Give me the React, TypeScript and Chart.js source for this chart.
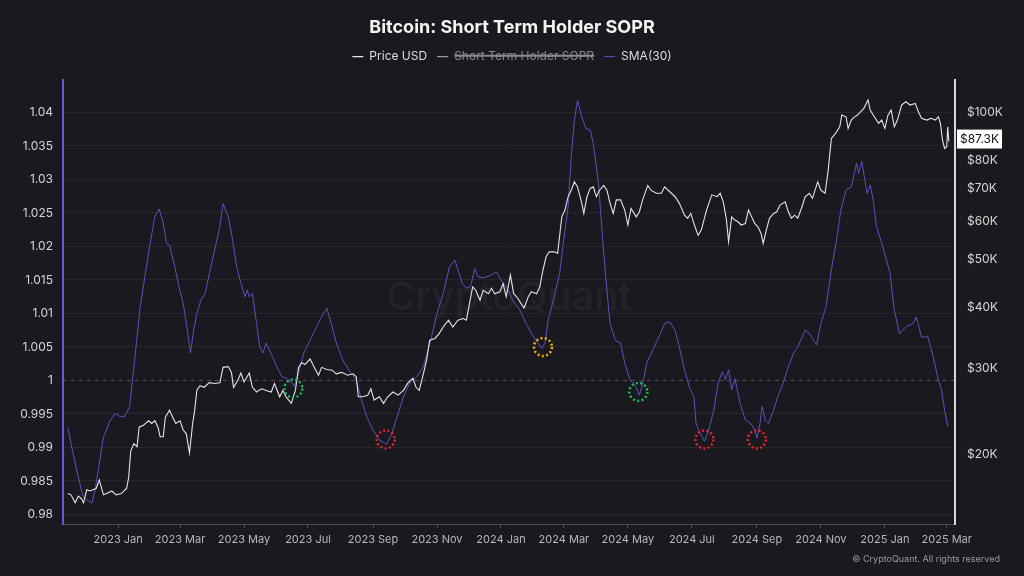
import React, { useEffect, useRef } from 'react';
import { Chart, registerables, layouts } from 'chart.js';

Chart.register(...registerables);

// ---------- text ----------
const TITLE = 'Bitcoin: Short Term Holder SOPR';
const SERIES_NAMES = ['Price USD', 'Short Term Holder SOPR', 'SMA(30)'];
const WATERMARK = 'CryptoQuant';
const COPYRIGHT = '© CryptoQuant. All rights reserved';

// ---------- axes ----------
const xTickDates = [
  '2023-01-01', '2023-03-01', '2023-05-01', '2023-07-01', '2023-09-01', '2023-11-01',
  '2024-01-01', '2024-03-01', '2024-05-01', '2024-07-01', '2024-09-01', '2024-11-01',
  '2025-01-01', '2025-03-01',
];
const xTickLabels = [
  '2023 Jan', '2023 Mar', '2023 May', '2023 Jul', '2023 Sep', '2023 Nov',
  '2024 Jan', '2024 Mar', '2024 May', '2024 Jul', '2024 Sep', '2024 Nov',
  '2025 Jan', '2025 Mar',
];
const soprTicks = [0.98, 0.985, 0.99, 0.995, 1, 1.005, 1.01, 1.015, 1.02, 1.025, 1.03, 1.035, 1.04];
const priceTicks = [20000, 30000, 40000, 50000, 60000, 70000, 80000, 100000];
const priceTickLabels = ['$20K', '$30K', '$40K', '$50K', '$60K', '$70K', '$80K', '$100K'];

// ---------- Price USD ----------
const priceDates = [
  '2022-11-14', '2022-11-17', '2022-11-21', '2022-11-24', '2022-11-27', '2022-11-29', '2022-12-02', '2022-12-05',
  '2022-12-08', '2022-12-11', '2022-12-14', '2022-12-18', '2022-12-21', '2022-12-26', '2022-12-30', '2023-01-04',
  '2023-01-09', '2023-01-11', '2023-01-13', '2023-01-16', '2023-01-19', '2023-01-21', '2023-01-25', '2023-01-30',
  '2023-02-02', '2023-02-05', '2023-02-08', '2023-02-10', '2023-02-13', '2023-02-15', '2023-02-19', '2023-02-22',
  '2023-02-25', '2023-03-01', '2023-03-04', '2023-03-07', '2023-03-10', '2023-03-13', '2023-03-15', '2023-03-17',
  '2023-03-20', '2023-03-24', '2023-03-29', '2023-04-03', '2023-04-08', '2023-04-11', '2023-04-16', '2023-04-19',
  '2023-04-21', '2023-04-25', '2023-04-28', '2023-05-01', '2023-05-06', '2023-05-09', '2023-05-13', '2023-05-15',
  '2023-05-18', '2023-05-22', '2023-05-27', '2023-05-30', '2023-06-04', '2023-06-07', '2023-06-10', '2023-06-15',
  '2023-06-19', '2023-06-22', '2023-06-25', '2023-06-28', '2023-07-03', '2023-07-08', '2023-07-11', '2023-07-14',
  '2023-07-19', '2023-07-24', '2023-07-28', '2023-08-02', '2023-08-08', '2023-08-13', '2023-08-16', '2023-08-18',
  '2023-08-22', '2023-08-27', '2023-08-30', '2023-09-02', '2023-09-07', '2023-09-11', '2023-09-15', '2023-09-20',
  '2023-09-25', '2023-09-30', '2023-10-04', '2023-10-09', '2023-10-12', '2023-10-15', '2023-10-19', '2023-10-22',
  '2023-10-25', '2023-10-30', '2023-11-03', '2023-11-08', '2023-11-12', '2023-11-16', '2023-11-21', '2023-11-26',
  '2023-11-29', '2023-12-02', '2023-12-05', '2023-12-08', '2023-12-12', '2023-12-15', '2023-12-20', '2023-12-23',
  '2023-12-26', '2023-12-31', '2024-01-03', '2024-01-06', '2024-01-10', '2024-01-13', '2024-01-17', '2024-01-20',
  '2024-01-23', '2024-01-27', '2024-01-30', '2024-02-04', '2024-02-07', '2024-02-10', '2024-02-13', '2024-02-16',
  '2024-02-21', '2024-02-24', '2024-02-28', '2024-03-02', '2024-03-05', '2024-03-08', '2024-03-11', '2024-03-14',
  '2024-03-18', '2024-03-20', '2024-03-23', '2024-03-26', '2024-03-29', '2024-04-01', '2024-04-04', '2024-04-08',
  '2024-04-11', '2024-04-14', '2024-04-17', '2024-04-20', '2024-04-24', '2024-04-28', '2024-05-01', '2024-05-04',
  '2024-05-09', '2024-05-12', '2024-05-15', '2024-05-20', '2024-05-23', '2024-05-28', '2024-06-02', '2024-06-05',
  '2024-06-10', '2024-06-15', '2024-06-19', '2024-06-24', '2024-06-27', '2024-06-30', '2024-07-04', '2024-07-07',
  '2024-07-10', '2024-07-15', '2024-07-20', '2024-07-25', '2024-07-28', '2024-07-31', '2024-08-03', '2024-08-05',
  '2024-08-08', '2024-08-11', '2024-08-14', '2024-08-17', '2024-08-21', '2024-08-24', '2024-08-27', '2024-08-30',
  '2024-09-02', '2024-09-05', '2024-09-07', '2024-09-10', '2024-09-13', '2024-09-17', '2024-09-20', '2024-09-23',
  '2024-09-28', '2024-10-01', '2024-10-04', '2024-10-07', '2024-10-10', '2024-10-14', '2024-10-17', '2024-10-21',
  '2024-10-24', '2024-10-29', '2024-11-01', '2024-11-05', '2024-11-08', '2024-11-11', '2024-11-15', '2024-11-19',
  '2024-11-21', '2024-11-25', '2024-11-27', '2024-11-30', '2024-12-03', '2024-12-06', '2024-12-09', '2024-12-12',
  '2024-12-16', '2024-12-18', '2024-12-22', '2024-12-26', '2024-12-29', '2025-01-01', '2025-01-04', '2025-01-07',
  '2025-01-10', '2025-01-13', '2025-01-17', '2025-01-21', '2025-01-25', '2025-01-30', '2025-02-02', '2025-02-05',
  '2025-02-10', '2025-02-14', '2025-02-18', '2025-02-21', '2025-02-23', '2025-02-25', '2025-02-27', '2025-03-01',
  '2025-03-02', '2025-03-03',
];
const priceValues = [
  16600, 16500, 15900, 16400, 16200, 15900, 16900, 16800,
  16900, 17000, 17700, 16500, 16600, 16800, 16500, 16600,
  17000, 17900, 20300, 21000, 20700, 22700, 22900, 23400,
  23100, 23400, 22700, 21700, 21700, 23800, 24600, 23800,
  23100, 23400, 22400, 22000, 20100, 23100, 24600, 27000,
  27600, 27400, 28000, 27900, 28000, 30100, 30200, 29400,
  27400, 28300, 29300, 28100, 29300, 27400, 26800, 27000,
  27200, 27000, 26800, 27900, 26200, 27000, 26200, 25400,
  27000, 30100, 30800, 30500, 31300, 29800, 29000, 30100,
  29800, 29700, 29200, 29400, 29000, 29200, 28800, 26200,
  26200, 26400, 27200, 25800, 26200, 25400, 26200, 26800,
  26400, 27000, 27900, 28600, 27400, 27000, 29200, 31100,
  34200, 34500, 35300, 36700, 37600, 36400, 37600, 37900,
  37600, 40700, 44000, 43300, 41300, 43300, 42600, 43700,
  42600, 43000, 44700, 42000, 46500, 42700, 41700, 40700,
  39800, 42000, 43000, 42600, 44000, 47600, 50700, 51900,
  51900, 51500, 61200, 63200, 67300, 69400, 72200, 70500,
  65300, 62200, 67300, 70000, 70500, 67300, 69400, 71000,
  69400, 65300, 62200, 66300, 66300, 63200, 58900, 63700,
  61200, 62700, 66300, 71000, 69400, 68400, 68400, 70500,
  68900, 67300, 65300, 61700, 60800, 62200, 58400, 56100,
  57500, 63200, 67900, 67300, 68400, 65700, 60300, 54400,
  61200, 60300, 59800, 58900, 59300, 63200, 61200, 59300,
  58400, 56600, 54000, 57500, 60800, 62200, 62700, 64700,
  65700, 62700, 60800, 61700, 60800, 64200, 67300, 68400,
  66800, 72200, 69400, 68400, 76300, 88600, 90700, 93600,
  98900, 98100, 92900, 96600, 98100, 98900, 100500, 102100,
  106200, 101300, 98100, 95100, 96600, 92900, 98900, 101300,
  93600, 96600, 103700, 105300, 103700, 104500, 100500, 97400,
  96600, 97400, 96600, 98100, 95100, 87900, 84500, 85200,
  93600, 87300,
];

// ---------- SMA(30) of Short Term Holder SOPR ----------
const smaDates = [
  '2022-11-14', '2022-11-19', '2022-11-24', '2022-11-28', '2022-12-02', '2022-12-07', '2022-12-10', '2022-12-13',
  '2022-12-18', '2022-12-21', '2022-12-24', '2022-12-29', '2023-01-03', '2023-01-07', '2023-01-12', '2023-01-15',
  '2023-01-18', '2023-01-22', '2023-01-27', '2023-01-31', '2023-02-05', '2023-02-09', '2023-02-13', '2023-02-16',
  '2023-02-19', '2023-02-24', '2023-02-28', '2023-03-04', '2023-03-08', '2023-03-11', '2023-03-14', '2023-03-17',
  '2023-03-21', '2023-03-25', '2023-03-29', '2023-04-03', '2023-04-08', '2023-04-11', '2023-04-16', '2023-04-19',
  '2023-04-24', '2023-04-28', '2023-05-02', '2023-05-04', '2023-05-06', '2023-05-09', '2023-05-13', '2023-05-16',
  '2023-05-19', '2023-05-22', '2023-05-25', '2023-05-28', '2023-06-01', '2023-06-06', '2023-06-11', '2023-06-15',
  '2023-06-18', '2023-06-22', '2023-06-27', '2023-07-03', '2023-07-09', '2023-07-14', '2023-07-19', '2023-07-24',
  '2023-07-28', '2023-08-03', '2023-08-10', '2023-08-16', '2023-08-21', '2023-08-26', '2023-09-01', '2023-09-07',
  '2023-09-14', '2023-09-19', '2023-09-24', '2023-09-30', '2023-10-06', '2023-10-13', '2023-10-19', '2023-10-26',
  '2023-11-01', '2023-11-07', '2023-11-13', '2023-11-18', '2023-11-25', '2023-11-29', '2023-12-03', '2023-12-07',
  '2023-12-10', '2023-12-15', '2023-12-22', '2023-12-28', '2024-01-01', '2024-01-06', '2024-01-12', '2024-01-19',
  '2024-01-25', '2024-02-01', '2024-02-05', '2024-02-09', '2024-02-12', '2024-02-15', '2024-02-20', '2024-02-26',
  '2024-02-29', '2024-03-05', '2024-03-08', '2024-03-11', '2024-03-14', '2024-03-18', '2024-03-22', '2024-03-26',
  '2024-03-29', '2024-04-03', '2024-04-07', '2024-04-11', '2024-04-14', '2024-04-19', '2024-04-24', '2024-04-28',
  '2024-05-03', '2024-05-08', '2024-05-12', '2024-05-16', '2024-05-19', '2024-05-25', '2024-06-01', '2024-06-05',
  '2024-06-10', '2024-06-15', '2024-06-19', '2024-06-24', '2024-06-29', '2024-07-03', '2024-07-05', '2024-07-09',
  '2024-07-13', '2024-07-17', '2024-07-22', '2024-07-26', '2024-07-30', '2024-08-02', '2024-08-05', '2024-08-08',
  '2024-08-11', '2024-08-16', '2024-08-21', '2024-08-26', '2024-08-30', '2024-09-01', '2024-09-04', '2024-09-06',
  '2024-09-09', '2024-09-12', '2024-09-17', '2024-09-21', '2024-09-26', '2024-09-30', '2024-10-06', '2024-10-10',
  '2024-10-17', '2024-10-21', '2024-10-28', '2024-11-01', '2024-11-06', '2024-11-11', '2024-11-16', '2024-11-20',
  '2024-11-25', '2024-11-30', '2024-12-03', '2024-12-05', '2024-12-07', '2024-12-10', '2024-12-13', '2024-12-15',
  '2024-12-18', '2024-12-21', '2024-12-24', '2024-12-30', '2025-01-06', '2025-01-10', '2025-01-15', '2025-01-21',
  '2025-01-28', '2025-01-31', '2025-02-05', '2025-02-11', '2025-02-16', '2025-02-21', '2025-02-24', '2025-02-27',
  '2025-03-02',
];
const smaValues = [
  0.9930, 0.9891, 0.9856, 0.9829, 0.9822, 0.9817, 0.9837, 0.9866,
  0.9916, 0.9926, 0.9939, 0.9951, 0.9946, 0.9946, 0.9961, 1.0006,
  1.0050, 1.0110, 1.0160, 1.0200, 1.0245, 1.0256, 1.0235, 1.0205,
  1.0202, 1.0170, 1.0140, 1.0115, 1.0075, 1.0041, 1.0075, 1.0100,
  1.0120, 1.0130, 1.0160, 1.0195, 1.0230, 1.0264, 1.0244, 1.0220,
  1.0170, 1.0145, 1.0125, 1.0135, 1.0125, 1.0130, 1.0085, 1.0050,
  1.0041, 1.0056, 1.0046, 1.0036, 1.0021, 1.0006, 1.0003, 0.9998,
  0.9991, 1.0011, 1.0041, 1.0060, 1.0080, 1.0095, 1.0108, 1.0080,
  1.0056, 1.0031, 1.0013, 1.0001, 0.9971, 0.9946, 0.9926, 0.9911,
  0.9905, 0.9921, 0.9946, 0.9976, 0.9996, 1.0006, 1.0021, 1.0060,
  1.0100, 1.0130, 1.0170, 1.0180, 1.0145, 1.0138, 1.0140, 1.0167,
  1.0155, 1.0153, 1.0157, 1.0162, 1.0150, 1.0140, 1.0120, 1.0105,
  1.0085, 1.0065, 1.0056, 1.0048, 1.0056, 1.0090, 1.0120, 1.0160,
  1.0200, 1.0259, 1.0334, 1.0389, 1.0418, 1.0394, 1.0376, 1.0374,
  1.0354, 1.0294, 1.0210, 1.0135, 1.0085, 1.0060, 1.0056, 1.0026,
  1.0001, 0.9993, 0.9978, 1.0001, 1.0026, 1.0046, 1.0070, 1.0085,
  1.0088, 1.0075, 1.0050, 1.0016, 0.9988, 0.9976, 0.9936, 0.9921,
  0.9909, 0.9926, 0.9956, 0.9996, 1.0013, 1.0001, 1.0016, 0.9986,
  1.0003, 0.9966, 0.9941, 0.9936, 0.9926, 0.9914, 0.9936, 0.9961,
  0.9941, 0.9936, 0.9956, 0.9976, 0.9996, 1.0016, 1.0041, 1.0050,
  1.0075, 1.0070, 1.0053, 1.0085, 1.0110, 1.0165, 1.0210, 1.0254,
  1.0284, 1.0289, 1.0309, 1.0324, 1.0309, 1.0327, 1.0299, 1.0279,
  1.0292, 1.0269, 1.0230, 1.0200, 1.0160, 1.0105, 1.0070, 1.0080,
  1.0085, 1.0095, 1.0065, 1.0065, 1.0036, 1.0001, 0.9986, 0.9956,
  0.9931,
];

// ---------- highlighted SMA turning points ----------
const markerDates = ['2023-06-17', '2023-09-13', '2024-02-10', '2024-05-11', '2024-07-13', '2024-09-01'];
const markerValues = [0.9988, 0.9912, 1.0050, 0.9983, 0.9912, 0.9912];
const markerKinds = ['green', 'red', 'yellow', 'green', 'red', 'red'];

// ---------- styling ----------
const MARKER_COLORS: Record<string, string> = { green: '#1fbf5a', red: '#e0262a', yellow: '#f2b705' };
const BG = '#19191f';
const FONT = 'Inter, "Noto Sans", sans-serif';

const DAY0 = Date.UTC(2023, 0, 1);
const dayOf = (s: string) => (Date.parse(s + 'T00:00:00Z') - DAY0) / 86400000;

const overlayPlugin = {
  id: 'overlay',
  beforeDraw(chart: any) {
    const { ctx } = chart;
    ctx.save();
    ctx.fillStyle = BG;
    ctx.fillRect(0, 0, chart.width, chart.height);
    ctx.restore();
  },
  beforeDatasetsDraw(chart: any) {
    const { ctx, chartArea, scales } = chart;
    ctx.save();
    ctx.font = `500 40px ${FONT}`;
    ctx.fillStyle = 'rgba(255,255,255,0.045)';
    ctx.textAlign = 'center';
    ctx.textBaseline = 'middle';
    ctx.fillText(WATERMARK, (chartArea.left + chartArea.right) / 2, (chartArea.top + chartArea.bottom) / 2 - 4);
    const y1 = scales.y.getPixelForValue(1);
    ctx.beginPath();
    ctx.setLineDash([4, 4]);
    ctx.strokeStyle = 'rgba(255,255,255,0.24)';
    ctx.lineWidth = 1;
    ctx.moveTo(chartArea.left, Math.round(y1) + 0.5);
    ctx.lineTo(chartArea.right, Math.round(y1) + 0.5);
    ctx.stroke();
    ctx.restore();
  },
  afterDatasetsDraw(chart: any) {
    const { ctx, scales, chartArea } = chart;
    ctx.save();
    markerDates.forEach((d, i) => {
      const x = scales.x.getPixelForValue(dayOf(d));
      const y = scales.y.getPixelForValue(markerValues[i]);
      ctx.beginPath();
      ctx.setLineDash([2, 2.4]);
      ctx.lineWidth = 2.5;
      ctx.strokeStyle = MARKER_COLORS[markerKinds[i]];
      ctx.arc(x, y, 9, 0, Math.PI * 2);
      ctx.stroke();
    });
    ctx.setLineDash([]);
    // last price tag
    const last = priceValues[priceValues.length - 1];
    const py = scales.y1.getPixelForValue(last);
    const label = `$${(last / 1000).toFixed(1)}K`;
    ctx.font = `12px ${FONT}`;
    const w = ctx.measureText(label).width + 6;
    const bx = chartArea.right + 2;
    ctx.fillStyle = '#ffffff';
    ctx.fillRect(bx, py - 12, w, 19);
    ctx.fillStyle = '#111111';
    ctx.textAlign = 'left';
    ctx.textBaseline = 'middle';
    ctx.fillText(label, bx + 3, py - 2.5);
    ctx.restore();
  },
  afterDraw(chart: any) {
    const { ctx } = chart;
    ctx.save();
    ctx.font = `9px ${FONT}`;
    ctx.fillStyle = '#9a9a9a';
    ctx.textAlign = 'right';
    ctx.textBaseline = 'middle';
    ctx.fillText(COPYRIGHT, chart.width - 24, 559);
    ctx.restore();
  },
};

const spacerPlugin = {
  id: 'legendSpacer',
  beforeInit(chart: any) {
    const box: any = {
      id: 'legendSpacer',
      position: 'top',
      weight: 500,
      fullSize: true,
      options: {},
      left: 0, top: 0, right: 0, bottom: 0, width: 0, height: 0,
      isHorizontal() { return true; },
      update(maxWidth: number) { this.width = maxWidth; this.height = 7.4; },
      draw() {},
    };
    layouts.addBox(chart, box);
  },
};

export default function App() {
  const canvasRef = useRef<HTMLCanvasElement | null>(null);

  useEffect(() => {
    document.body.style.margin = '0';
    document.body.style.background = BG;
    const canvas = canvasRef.current;
    if (!canvas) return;

    const chart = new Chart(canvas, {
      type: 'line',
      data: {
        datasets: [
          {
            label: SERIES_NAMES[0],
            data: priceDates.map((d, i) => ({ x: dayOf(d), y: priceValues[i] })),
            yAxisID: 'y1',
            borderColor: '#e4e4e4',
            backgroundColor: '#e4e4e4',
            borderWidth: 1.1,
            pointRadius: 0,
            pointStyle: 'line',
            tension: 0,
          },
          {
            label: SERIES_NAMES[1],
            data: [],
            yAxisID: 'y',
            hidden: true,
            borderColor: '#9a9a9a',
            backgroundColor: '#9a9a9a',
            borderWidth: 1.2,
            pointRadius: 0,
            pointStyle: 'line',
          },
          {
            label: SERIES_NAMES[2],
            data: smaDates.map((d, i) => ({ x: dayOf(d), y: smaValues[i] })),
            yAxisID: 'y',
            borderColor: '#5753bd',
            backgroundColor: '#5753bd',
            borderWidth: 1,
            pointRadius: 0,
            pointStyle: 'line',
            tension: 0,
          },
        ],
      },
      options: {
        responsive: false,
        maintainAspectRatio: false,
        animation: false,
        devicePixelRatio: 1,
        events: [],
        font: { family: FONT },
        layout: { padding: { top: 0, left: 0, right: 0, bottom: 0 } },
        plugins: {
          tooltip: { enabled: false },
          title: {
            display: true,
            text: TITLE,
            color: '#f4f4f4',
            font: { family: FONT, size: 18, weight: 'bold' },
            padding: { top: 17, bottom: 2 },
          },
          legend: {
            display: true,
            position: 'top',
            labels: {
              usePointStyle: true,
              pointStyleWidth: 11,
              color: '#dedede',
              font: { family: FONT, size: 12 },
              padding: 10,
              generateLabels: (c: any) =>
                (Chart.defaults.plugins.legend.labels.generateLabels as any)(c).map((it: any) => ({
                  ...it,
                  fontColor: it.hidden ? '#8a8a8a' : '#dedede',
                })),
            },
          },
        },
        scales: {
          x: {
            type: 'linear',
            min: -52.6,
            max: 797.9,
            afterBuildTicks: (s: any) => { s.ticks = xTickDates.map((d) => ({ value: dayOf(d) })); },
            afterFit: (s: any) => { s.height = 52; },
            ticks: {
              autoSkip: false,
              maxRotation: 0,
              minRotation: 0,
              color: '#b8b8b8',
              font: { family: FONT, size: 11 },
              padding: 5,
              callback: (_v: any, i: number) => xTickLabels[i],
            },
            grid: { drawOnChartArea: false, drawTicks: true, tickLength: 4, color: '#4c4c55' },
            border: { display: true, color: '#4c4c55', width: 1 },
          },
          y: {
            type: 'linear',
            position: 'left',
            min: 0.97858,
            max: 1.04485,
            afterBuildTicks: (s: any) => { s.ticks = soprTicks.map((v) => ({ value: v })); },
            afterFit: (s: any) => { s.width = 63; },
            ticks: {
              color: '#d6d6d6',
              font: { family: FONT, size: 12 },
              padding: 10,
              callback: (_v: any, i: number) => String(soprTicks[i]),
            },
            grid: {
              drawTicks: false,
              color: (ctx: any) => (ctx.tick && ctx.tick.value === 1 ? 'rgba(0,0,0,0)' : 'rgba(255,255,255,0.06)'),
            },
            border: { display: true, color: '#5d5bd8', width: 2 },
          },
          y1: {
            type: 'logarithmic',
            position: 'right',
            min: 14380,
            max: 116700,
            afterBuildTicks: (s: any) => { s.ticks = priceTicks.map((v) => ({ value: v })); },
            afterFit: (s: any) => { s.width = 69; },
            ticks: {
              color: '#d6d6d6',
              font: { family: FONT, size: 12 },
              padding: 12,
              callback: (_v: any, i: number) => priceTickLabels[i],
            },
            grid: { drawOnChartArea: false, drawTicks: false },
            border: { display: true, color: '#d9d9d9', width: 2 },
          },
        },
      } as any,
      plugins: [spacerPlugin, overlayPlugin],
    });

    return () => chart.destroy();
  }, []);

  return (
    <div style={{ width: 1024, height: 576, background: BG }}>
      <canvas ref={canvasRef} width={1024} height={576} style={{ display: 'block' }} />
    </div>
  );
}
